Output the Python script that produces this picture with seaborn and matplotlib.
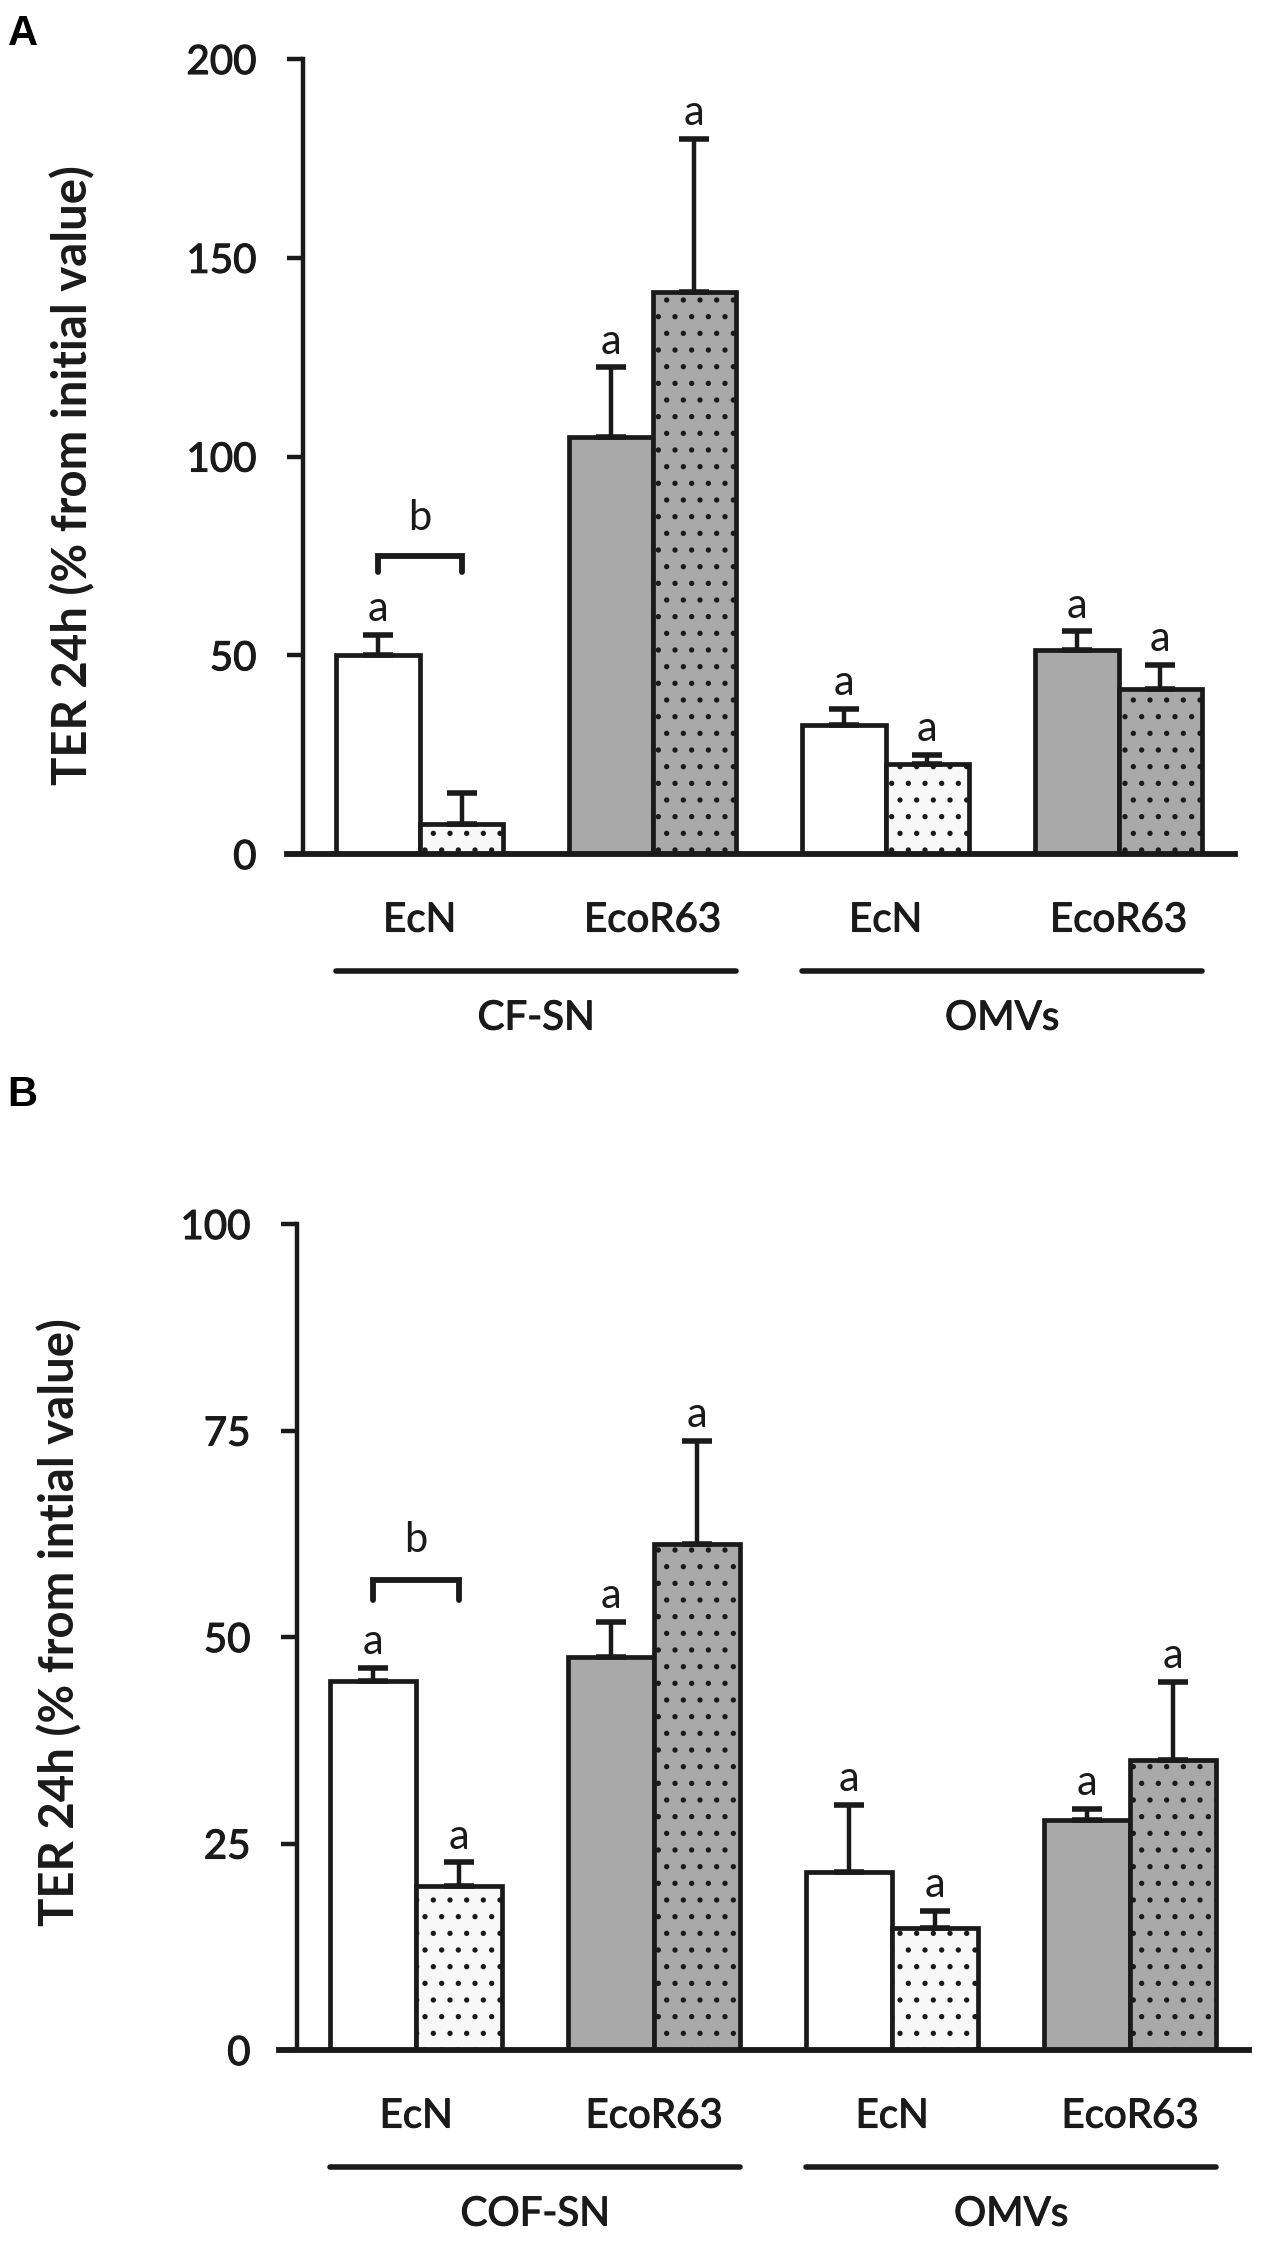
import numpy as np
import pandas as pd
import matplotlib
matplotlib.use('Agg')
import matplotlib.pyplot as plt
import matplotlib.patheffects as pe
import seaborn as sns
from matplotlib.transforms import ScaledTranslation
from matplotlib.lines import Line2D

# ---- data ----
groups      = ['g1', 'g2', 'g3', 'g4']
strains     = ['EcN', 'EcoR63', 'EcN', 'EcoR63']
kinds       = ['plain', 'dotted']

a_plain     = [50.0, 105.0, 32.5, 51.3]
a_plain_err = [5.0, 17.4, 4.0, 4.7]
a_dot       = [7.5, 141.3, 22.6, 41.5]
a_dot_err   = [7.8, 38.7, 2.3, 6.1]
a_plain_lab = ['a', 'a', 'a', 'a']
a_dot_lab   = ['', 'a', 'a', 'a']
a_sets      = ['CF-SN', 'OMVs']
a_bracket   = [75.0, 71.0, 84.5]     # top, leg end, letter height
a_ylabel    = 'TER 24h (% from initial value)'
a_ticks     = [0, 50, 100, 150, 200]

b_plain     = [44.7, 47.6, 21.5, 27.9]
b_plain_err = [1.5, 4.2, 8.2, 1.3]
b_dot       = [19.8, 61.3, 14.8, 35.1]
b_dot_err   = [2.9, 12.4, 2.0, 9.5]
b_plain_lab = ['a', 'a', 'a', 'a']
b_dot_lab   = ['a', 'a', 'a', 'a']
b_sets      = ['COF-SN', 'OMVs']
b_bracket   = [56.9, 54.5, 61.7]
b_ylabel    = 'TER 24h (% from intial value)'
b_ticks     = [0, 25, 50, 75, 100]

INK   = '#1a1a1a'
GREY  = '#a9a9a9'
PALE  = '#f8f8f8'

sns.set_theme(style='white')
plt.rcParams['font.family']     = ['Lato', 'DejaVu Sans']
plt.rcParams['hatch.linewidth'] = 1.4
plt.rcParams['hatch.color']     = INK

fig = plt.figure(figsize=(12.67, 22.47), dpi=100)
W, H = 1267, 2247
thick = [pe.withStroke(linewidth=0.8, foreground=INK)]


def panel(ax, plain, plain_err, dot, dot_err, plain_lab, dot_lab, sets,
          bracket, ylabel, ticks, xlim, label_y):
    df = pd.DataFrame({
        'group': groups * 2,
        'kind':  ['plain'] * 4 + ['dotted'] * 4,
        'value': plain + dot,
        'err':   plain_err + dot_err,
        'lab':   plain_lab + dot_lab,
    })
    sns.barplot(data=df, x='group', y='value', hue='kind', order=groups,
                hue_order=kinds, palette=['white', 'white'], width=0.72,
                gap=0, errorbar=None, legend=False, edgecolor=INK,
                linewidth=3.4, ax=ax)

    centers = {}
    for kind, cont in zip(kinds, ax.containers):
        for strain, g, bar in zip(strains, groups, cont.patches):
            face = 'white' if strain == 'EcN' else GREY
            if kind == 'dotted':
                face = PALE if strain == 'EcN' else GREY
                bar.set_hatch('.')
            bar.set_facecolor(face)
            bar.set_edgecolor(INK)
            centers[(g, kind)] = bar.get_x() + bar.get_width() / 2
    bw = ax.containers[0].patches[0].get_width()

    for _, r in df.iterrows():
        x = centers[(r.group, r.kind)]
        ax.errorbar(x, r.value, yerr=[[0], [r.err]], fmt='none', ecolor=INK,
                    elinewidth=3.2, capsize=10.5, capthick=4, zorder=3)
        if r.lab:
            ax.annotate(r.lab, (x, r.value + r.err), xytext=(0, 10),
                        textcoords='offset points', ha='center',
                        va='baseline', fontsize=30, color=INK)

    # bracket over the first pair
    x0, x1 = centers[('g1', 'plain')], centers[('g1', 'dotted')]
    top, leg, ltxt = bracket
    ax.plot([x0, x0, x1, x1], [leg, top, top, leg], color=INK, lw=4.2,
            solid_joinstyle='miter', clip_on=False)
    ax.text((x0 + x1) / 2, ltxt, 'b', ha='center', va='center',
            fontsize=30, color=INK)

    ax.set_xlim(*xlim)
    ax.set_ylim(0, ticks[-1])
    ax.set_yticks(ticks)
    ax.set_xticks([])
    ax.set_xlabel('')
    sns.despine(ax=ax)
    ax.spines['left'].set_position(('data', -0.5))
    ax.spines['left'].set_linewidth(3.2)
    ax.spines['left'].set_color(INK)
    ax.spines['bottom'].set_linewidth(4.2)
    ax.spines['bottom'].set_color(INK)
    ax.tick_params(axis='y', direction='out', length=11.5, width=3.2,
                   color=INK, labelsize=29, pad=22, labelcolor=INK, left=True)
    for t in ax.get_yticklabels():
        t.set_path_effects(thick)
    ax.set_ylabel(ylabel, fontsize=34, fontweight='bold', color=INK)
    ax.yaxis.label.set_va('center')
    ax.yaxis.set_label_coords(-0.226, label_y)

    # category labels, group lines and group names below the axis
    def below(px):
        return ax.get_xaxis_transform() + ScaledTranslation(0, -px / 100, fig.dpi_scale_trans)

    for g, s in zip(groups, strains):
        xc = (centers[(g, 'plain')] + centers[(g, 'dotted')]) / 2
        ax.text(xc, 0, s, transform=below(66), ha='center', va='center',
                fontsize=29, color=INK, path_effects=thick)
    for i, name in enumerate(sets):
        ga, gb = groups[2 * i], groups[2 * i + 1]
        xa = centers[(ga, 'plain')] - bw / 2
        xb = centers[(gb, 'dotted')] + bw / 2
        ax.add_line(Line2D([xa, xb], [0, 0], transform=below(117), color=INK,
                           lw=4, clip_on=False))
        ax.text((xa + xb) / 2, 0, name, transform=below(164), ha='center',
                va='center', fontsize=29, color=INK, path_effects=thick)


axA = fig.add_axes([287 / W, 1 - 854 / H, (1235 - 287) / W, (854 - 59) / H])
panel(axA, a_plain, a_plain_err, a_dot, a_dot_err, a_plain_lab, a_dot_lab,
      a_sets, a_bracket, a_ylabel, a_ticks, (-0.569, 3.5), 0.477)

axB = fig.add_axes([279 / W, 1 - 2050 / H, (1249 - 279) / W, (2050 - 1224) / H])
panel(axB, b_plain, b_plain_err, b_dot, b_dot_err, b_plain_lab, b_dot_lab,
      b_sets, b_bracket, b_ylabel, b_ticks, (-0.576, 3.5), 0.518)

fig.text(8 / W, 1 - 14 / H, 'A', fontsize=30, fontweight='bold',
         family='Liberation Sans', va='top', ha='left', color='black')
fig.text(7 / W, 1 - 1075 / H, 'B', fontsize=30, fontweight='bold',
         family='Liberation Sans', va='top', ha='left', color='black')

fig.savefig('out.png', dpi=100, facecolor='white')
